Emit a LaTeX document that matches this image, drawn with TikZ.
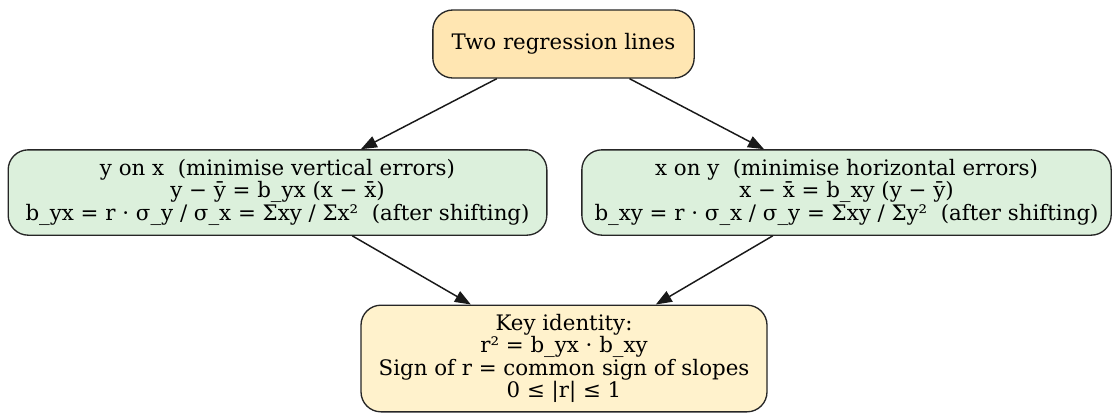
\documentclass[tikz,border=0pt]{standalone}
\usepackage{fontspec}
\setmainfont{DejaVu Serif}
\usetikzlibrary{arrows.meta}
\definecolor{topfill}{RGB}{255,230,178}
\definecolor{linefill}{RGB}{220,240,220}
\definecolor{keyfill}{RGB}{255,242,204}

\begin{document}
\begin{tikzpicture}[x=0.75pt, y=-0.75pt,
Box/.style={draw=black!85, line width=1pt, rounded corners=15pt, align=center, inner sep=0pt, font=\fontsize{16}{15}\selectfont},
Link/.style={-{Triangle[length=12pt, width=9pt]}, line width=1.1pt, draw=black!90}]
\useasboundingbox (0,0) rectangle (1112,415);

\node[Box, fill=topfill, minimum width=196pt, minimum height=51pt] (top) at (563.5,44) {Two regression lines};

\node[Box, fill=linefill, minimum width=404pt, minimum height=64pt] (yonx) at (277.5,192.5) {y on x~ (minimise vertical errors)\\y − ȳ = b\_yx (x − x̄)\\b\_yx = r · σ\_y / σ\_x = Σxy / Σx²~ (after shifting)};
\node[Box, fill=linefill, minimum width=397pt, minimum height=64pt] (xony) at (846.5,192.5) {x on y~ (minimise horizontal errors)\\x − x̄ = b\_xy (y − ȳ)\\b\_xy = r · σ\_x / σ\_y = Σxy / Σy²~ (after shifting)};

\node[Box, fill=keyfill, minimum width=304.5pt, minimum height=80pt] (key) at (564,358.5) {Key identity:\\r² = b\_yx · b\_xy\\Sign of r = common sign of slopes\\0 ≤ |r| ≤ 1};

\draw[Link] (top) -- (yonx);
\draw[Link] (top) -- (xony);
\draw[Link] (yonx) -- (key);
\draw[Link] (xony) -- (key);

\end{tikzpicture}
\end{document}
